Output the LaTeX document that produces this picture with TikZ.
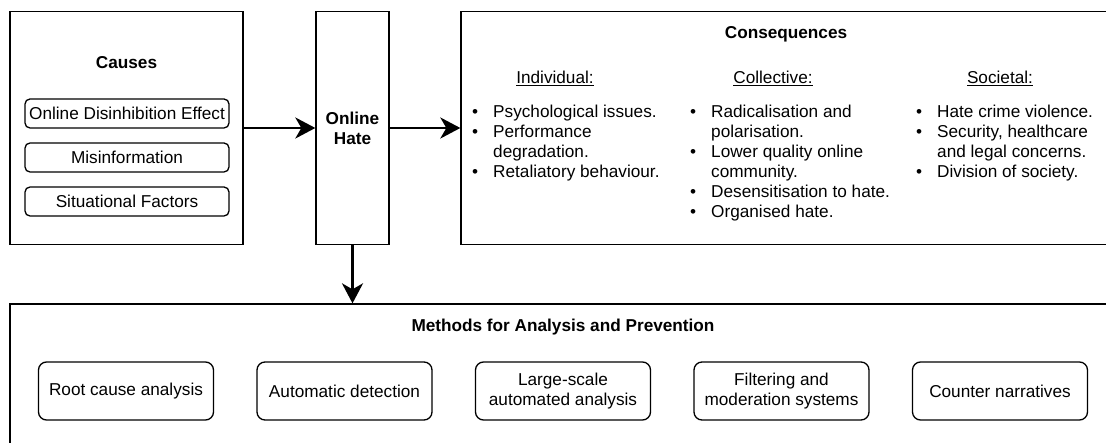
\documentclass[tikz,border=0pt]{standalone}
\usepackage{fontspec}
\setmainfont{Liberation Sans}
\usetikzlibrary{arrows.meta}
% bullet with hanging indent for the consequence lists
\newcommand\bul{\makebox[21pt][l]{•}}
\newcommand\hang{\hspace*{21pt}}
\begin{document}
\begin{tikzpicture}[x=1pt,y=-1pt,
  txt/.style={font=\fontsize{17.2}{20}\selectfont, inner sep=0pt},
  txtb/.style={font=\fontsize{17.2}{20}\selectfont\bfseries, inner sep=0pt},
  frame/.style={draw=black, line width=1.3pt, inner sep=0pt},
  pill/.style={draw=black, line width=1.3pt, inner sep=0pt,
    font=\fontsize{17.2}{20}\selectfont, align=center},
  cause/.style={pill, rounded corners=5pt, minimum width=204pt, minimum height=29pt},
  method/.style={pill, rounded corners=8pt, minimum width=175pt, minimum height=58pt},
  flow/.style={line width=2.8pt, -{Stealth[length=20pt,width=21pt,inset=6pt]}}
]
\useasboundingbox (0,0) rectangle (1106,443);
\fill[white] (0,0) rectangle (1106,443);
\clip (0,0) rectangle (1106,443);

% main frames
\node[frame, minimum width=233pt, minimum height=233pt] (causes) at (126.5,128) {};
\node[frame, minimum width=73pt, minimum height=233pt] (hate) at (352.5,128) {};
\node[frame, minimum width=650pt, minimum height=233pt] (cons) at (786,128) {};
\node[frame, minimum width=1106pt, minimum height=160pt] (methods) at (563,384) {};

% causes
\node[txtb, anchor=base] (causestitle) at (126.5,69) {Causes};
\node[cause] (c1) at (127,113.5) {Online Disinhibition Effect};
\node[cause] (c2) at (127,157.5) {Misinformation};
\node[cause] (c3) at (127,201.5) {Situational Factors};

% online hate
\node[txtb, align=center] (hatetext) at (352.5,128) {Online\\Hate};

% consequences
\node[txtb, anchor=base] (constitle) at (786,39) {Consequences};
\node[txt, anchor=base] (hind) at (555,84) {\underline{Individual:}};
\node[txt, anchor=base] (hcol) at (773,84) {\underline{Collective:}};
\node[txt, anchor=base] (hsoc) at (1000,84) {\underline{Societal:}};

\node[txt, align=left, anchor=north west] (lind) at (472,105) {%
\bul Psychological issues.\\
\bul Performance\\
\hang degradation.\\
\bul Retaliatory behaviour.};
\node[txt, align=left, anchor=north west] (lcol) at (690,105) {%
\bul Radicalisation and\\
\hang polarisation.\\
\bul Lower quality online\\
\hang community.\\
\bul Desensitisation to hate.\\
\bul Organised hate.};
\node[txt, align=left, anchor=north west] (lsoc) at (916,105) {%
\bul Hate crime violence.\\
\bul Security, healthcare\\
\hang and legal concerns.\\
\bul Division of society.};

% methods
\node[txtb, anchor=base] (methtitle) at (563,332) {Methods for Analysis and Prevention};
\node[method] (m1) at (126,391) {Root cause analysis};
\node[method] (m2) at (344.5,391) {Automatic detection};
\node[method] (m3) at (563,391) {Large-scale\\automated analysis};
\node[method] (m4) at (781.5,391) {Filtering and\\moderation systems};
\node[method] (m5) at (1000,391) {Counter narratives};

% connectors
\draw[flow] (causes.east) -- (hate.west);
\draw[flow] (hate.east) -- (cons.west);
\draw[flow] (hate.south) -- (hate.south |- methods.north);
\end{tikzpicture}
\end{document}
